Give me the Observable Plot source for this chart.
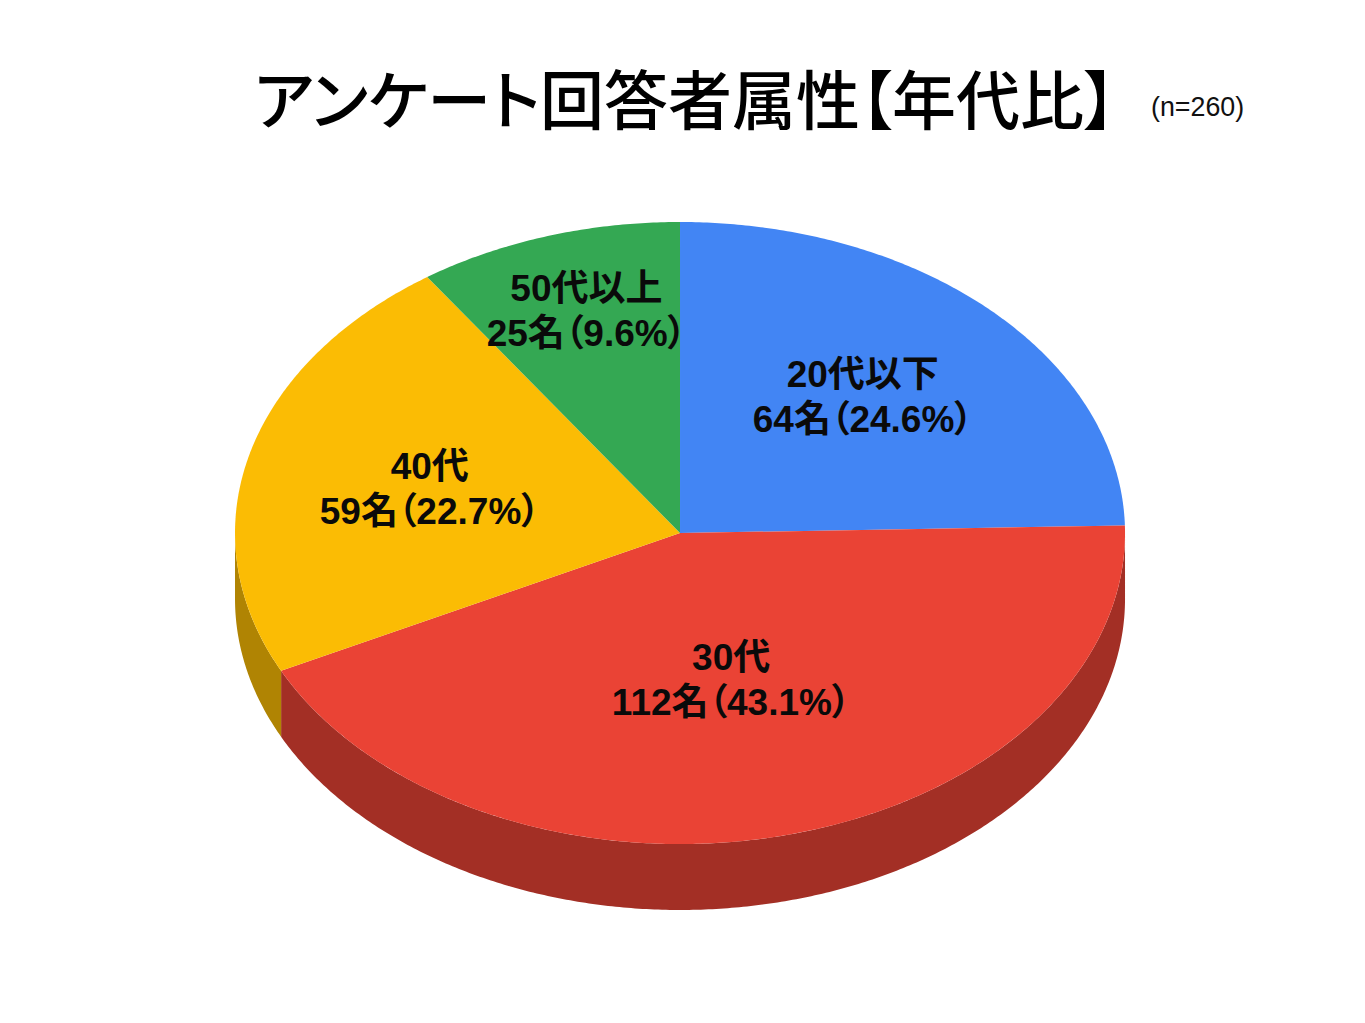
<!DOCTYPE html>
<html lang="ja">
<head>
<meta charset="utf-8">
<script src="https://cdn.jsdelivr.net/npm/d3@7"></script>
<script src="https://cdn.jsdelivr.net/npm/@observablehq/plot@0.6"></script>
<style>
html,body{margin:0;padding:0;background:#fff}
#head{position:relative;width:1365px;height:160px;overflow:hidden}
#title{position:absolute;left:254px;top:52px;font:500 64px/88px "Noto Sans CJK JP",sans-serif;font-feature-settings:"palt";color:#000;white-space:nowrap}
#n{position:absolute;left:1151px;top:92px;font:26.8px/30px "Liberation Sans",sans-serif;color:#111;white-space:nowrap}
svg{display:block;font-feature-settings:"palt"}
</style>
</head>
<body>
<div id="head"><div id="title">アンケート回答者属性【年代比】</div><div id="n">(n=260)</div></div>
<div id="chart"></div>
<script>
const categories = ["20代以下", "30代", "40代", "50代以上"];
const counts = [64, 112, 59, 25];
const percents = ["24.6", "43.1", "22.7", "9.6"];
const colors = ["#4285F4", "#EA4335", "#FBBC04", "#34A853"];
const sideColors = ["#2E5DAB", "#A32F25", "#B08403", "#24763A"];
const labelRadiusX = [0.588, 0.48, 0.581, 0.707];
const labelRadiusY = [0.62, 0.48, 0.585, 0.753];
const depth = 0.212;

const total = d3.sum(counts);
let cum = 0;
const slices = counts.map((c, i) => {
  const a0 = cum / total * 360; cum += c; const a1 = cum / total * 360;
  return {i, name: categories[i], a0, a1};
});
const pt = (deg, dy = 0) => {
  const r = deg * Math.PI / 180;
  return {x: Math.sin(r), y: Math.cos(r) - dy};
};
const arc = (a0, a1, dy = 0) => {
  const n = Math.max(1, Math.ceil((a1 - a0) * 2));
  return d3.range(n + 1).map(k => pt(a0 + (a1 - a0) * k / n, dy));
};

const tops = [], sides = [];
for (const s of slices) {
  [{x: 0, y: 0}, ...arc(s.a0, s.a1)].forEach(p => tops.push({...p, name: s.name}));
  const lo = Math.max(s.a0, 90), hi = Math.min(s.a1, 270);
  if (hi > lo) {
    [...arc(lo, hi), ...arc(lo, hi, depth).reverse()].forEach(p => sides.push({...p, name: s.name}));
  }
}
const labels = slices.map(s => {
  const p = pt((s.a0 + s.a1) / 2);
  return {
    x: p.x * labelRadiusX[s.i],
    y: p.y * labelRadiusY[s.i],
    text: `${s.name}\n${counts[s.i]}名（${percents[s.i]}%）`
  };
});

const plot = Plot.plot({
  width: 1365,
  height: 863,
  margin: 0,
  x: {domain: [-1.527, 1.5404], axis: null},
  y: {domain: [-1.577, 1.1977], axis: null},
  color: {domain: categories, range: colors},
  style: {background: "#fff"},
  marks: [
    Plot.line(sides, {x: "x", y: "y", z: "name", curve: "linear", stroke: "none",
      fill: d => sideColors[categories.indexOf(d.name)]}),
    Plot.line(tops, {x: "x", y: "y", z: "name", curve: "linear", stroke: "none",
      fill: d => colors[categories.indexOf(d.name)]}),
    Plot.text(labels, {x: "x", y: "y", text: "text", fontSize: 37, fontWeight: 700,
      lineHeight: 1.216, fill: "#0a0a0a",
      fontFamily: "'Liberation Sans','Noto Sans CJK JP',sans-serif"})
  ]
});
document.getElementById("chart").append(plot);
</script>
</body>
</html>
